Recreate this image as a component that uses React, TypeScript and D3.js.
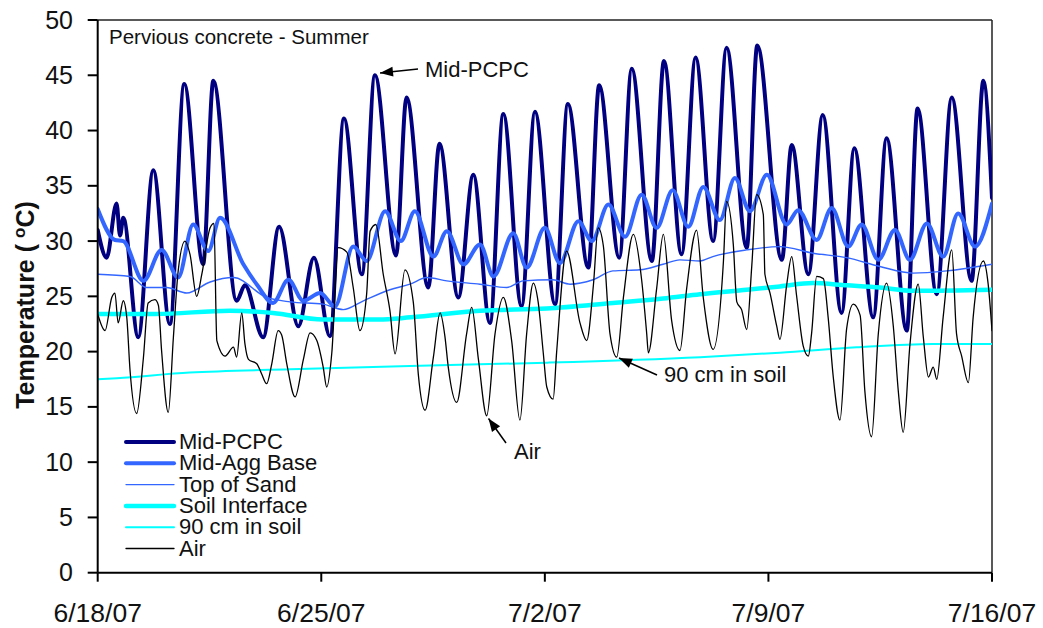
import React from "react";
import * as d3 from "d3";

type Pt = [number, number]; // [days since 6/18/07, temperature °C]

const xTickDays = [0, 7, 14, 21, 28];
const xTickLabels = ["6/18/07", "6/25/07", "7/2/07", "7/9/07", "7/16/07"];
const yTicks = [0, 5, 10, 15, 20, 25, 30, 35, 40, 45, 50];

const midPcpc: Pt[] = [
  [0.0, 31.0], [0.28, 28.5], [0.59, 33.4], [0.7, 30.5], [0.8, 32.1], [1.27, 21.3],
  [1.74, 36.4], [2.26, 22.5], [2.71, 44.2], [3.3, 27.9], [3.62, 44.5], [4.35, 24.6],
  [4.61, 26.0], [5.18, 21.3], [5.68, 31.3], [6.28, 22.3], [6.77, 28.5], [7.27, 21.4],
  [7.71, 41.1], [8.27, 27.0], [8.68, 45.0], [9.34, 28.7], [9.67, 43.0], [10.35, 25.8],
  [10.7, 38.8], [11.29, 24.9], [11.76, 36.0], [12.28, 22.6], [12.7, 41.5], [13.27, 24.1],
  [13.69, 41.7], [14.32, 24.3], [14.72, 42.4], [15.36, 27.6], [15.7, 44.1], [16.33, 28.5],
  [16.72, 45.6], [17.35, 28.2], [17.73, 46.3], [18.28, 28.8], [18.72, 46.6], [19.27, 30.0],
  [19.69, 47.5], [20.32, 29.4], [20.65, 47.7], [21.42, 28.3], [21.73, 38.7], [22.25, 27.0],
  [22.7, 41.4], [23.29, 23.5], [23.69, 38.4], [24.28, 23.1], [24.7, 39.3], [25.33, 21.9],
  [25.67, 42.0], [26.27, 25.2], [26.74, 43.0], [27.36, 26.4], [27.73, 44.5], [28.0, 33.9],
];

const midAggBase: Pt[] = [
  [0.0, 32.9], [0.54, 30.1], [0.8, 30.0], [1.43, 26.4], [2.0, 29.2], [2.52, 26.7],
  [2.99, 31.5], [3.46, 29.1], [3.83, 32.1], [4.56, 27.9], [5.0, 26.0], [5.49, 24.4],
  [5.97, 26.5], [6.44, 24.6], [6.96, 25.3], [7.43, 24.1], [8.0, 29.5], [8.42, 28.2],
  [9.0, 32.7], [9.49, 30.0], [9.93, 32.7], [10.51, 28.6], [10.93, 30.9], [11.45, 27.9],
  [11.97, 29.7], [12.39, 26.8], [13.01, 30.7], [13.43, 27.6], [14.0, 31.2], [14.47, 28.0],
  [15.05, 31.8], [15.47, 30.0], [15.99, 33.3], [16.51, 30.4], [17.03, 34.2], [17.5, 31.2],
  [18.0, 34.6], [18.49, 31.3], [18.96, 34.9], [19.48, 31.9], [19.95, 35.7], [20.42, 32.7],
  [20.95, 36.0], [21.57, 31.5], [21.93, 32.8], [22.51, 30.1], [22.98, 33.0], [23.5, 29.5],
  [23.92, 31.5], [24.44, 28.3], [24.96, 31.0], [25.43, 28.3], [25.96, 31.6], [26.47, 28.6],
  [26.94, 32.5], [27.47, 29.5], [28.0, 33.4],
];

const topOfSand: Pt[] = [
  [0.0, 27.0], [1.01, 26.8], [1.53, 25.8], [2.16, 25.8], [2.79, 25.3], [3.52, 26.3],
  [4.25, 26.7], [5.29, 24.9], [6.02, 24.5], [7.05, 24.3], [7.69, 23.8], [8.32, 24.6],
  [9.15, 25.6], [9.78, 26.1], [10.3, 26.7], [10.93, 26.4], [11.97, 26.1], [12.81, 25.8],
  [13.32, 26.4], [14.25, 26.5], [14.79, 26.1], [15.51, 26.5], [16.13, 27.3], [16.98, 27.4],
  [17.7, 27.9], [18.23, 28.3], [18.86, 28.2], [19.26, 28.6], [20.32, 29.2], [21.36, 29.5],
  [22.4, 28.9], [23.45, 28.5], [24.49, 27.7], [25.53, 27.1], [26.58, 27.3], [28.0, 27.9],
];

const soilInterface: Pt[] = [
  [0.0, 23.4], [1.8, 23.4], [4.14, 23.7], [5.49, 23.5], [7.05, 22.9], [8.8, 22.9],
  [9.8, 23.1], [11.97, 23.7], [14.06, 23.9], [16.13, 24.4], [17.7, 24.8], [18.86, 25.2],
  [20.32, 25.6], [21.36, 25.9], [22.4, 26.2], [23.45, 26.0], [24.49, 25.8], [25.53, 25.5],
  [28.0, 25.6],
];

const soil90cm: Pt[] = [
  [0.0, 17.5], [0.6, 17.6], [2.88, 18.1], [6.02, 18.4], [9.78, 18.7], [14.06, 19.0],
  [18.86, 19.5], [21.36, 19.9], [23.76, 20.4], [26.15, 20.7], [28.0, 20.7],
];

const air: Pt[] = [
  [0.0, 23.4], [0.23, 21.9], [0.44, 24.9], [0.54, 25.3], [0.64, 22.6], [0.8, 24.6],
  [0.91, 23.1], [1.01, 18.4], [1.22, 14.4], [1.43, 19.4], [1.58, 24.4], [1.79, 24.7],
  [1.9, 24.2], [2.0, 20.1], [2.21, 14.5], [2.37, 21.3], [2.52, 27.3], [2.73, 30.0],
  [2.89, 28.8], [3.1, 25.0], [3.26, 27.0], [3.52, 31.2], [3.64, 31.6], [3.73, 21.0],
  [3.99, 19.6], [4.25, 20.4], [4.35, 19.5], [4.51, 23.5], [4.61, 20.7], [4.72, 19.3],
  [4.98, 18.9], [5.13, 18.0], [5.29, 17.1], [5.45, 18.9], [5.65, 21.9], [5.76, 21.5],
  [5.92, 18.9], [6.18, 15.9], [6.44, 19.3], [6.65, 21.7], [6.86, 21.0], [7.06, 18.6],
  [7.17, 16.8], [7.33, 19.9], [7.53, 29.4], [7.8, 29.0], [8.0, 25.8], [8.21, 21.9],
  [8.42, 25.2], [8.53, 30.9], [8.71, 31.5], [8.94, 27.0], [9.15, 23.7], [9.31, 19.8],
  [9.62, 27.4], [9.88, 24.5], [10.04, 17.9], [10.25, 14.7], [10.51, 19.5], [10.72, 23.5],
  [10.87, 21.4], [10.98, 18.5], [11.24, 15.4], [11.55, 21.6], [11.71, 24.0], [11.92, 19.3],
  [12.18, 14.2], [12.44, 21.6], [12.7, 24.9], [12.96, 21.0], [13.22, 13.8], [13.43, 21.6],
  [13.64, 26.2], [13.79, 24.5], [13.95, 19.9], [14.06, 16.8], [14.26, 15.7], [14.37, 20.0],
  [14.68, 29.1], [15.1, 22.6], [15.31, 21.0], [15.52, 26.0], [15.67, 31.2], [15.83, 29.6],
  [16.04, 21.6], [16.25, 19.5], [16.46, 24.9], [16.77, 30.6], [17.03, 26.5], [17.19, 21.6],
  [17.24, 19.9], [17.5, 25.7], [17.71, 30.6], [17.97, 22.8], [18.23, 20.1], [18.44, 25.7],
  [18.75, 31.0], [18.96, 24.9], [19.27, 20.2], [19.59, 28.1], [19.69, 33.6], [19.9, 29.7],
  [20.01, 24.5], [20.16, 23.8], [20.32, 22.0], [20.48, 27.8], [20.63, 34.2], [20.84, 32.4],
  [20.89, 27.0], [21.05, 25.3], [21.26, 22.3], [21.36, 21.1], [21.57, 26.0], [21.73, 28.6],
  [21.88, 25.1], [22.09, 20.5], [22.25, 19.6], [22.35, 21.6], [22.51, 26.8], [22.72, 26.6],
  [22.87, 23.1], [23.03, 17.7], [23.24, 13.8], [23.45, 22.1], [23.66, 24.3], [23.87, 23.3],
  [24.02, 16.4], [24.23, 12.3], [24.44, 21.6], [24.7, 26.2], [24.91, 22.3], [25.07, 16.3],
  [25.22, 12.7], [25.43, 20.6], [25.69, 26.1], [25.85, 21.3], [26.01, 17.7], [26.16, 18.6],
  [26.27, 17.5], [26.47, 23.1], [26.74, 29.2], [26.89, 21.6], [27.05, 19.6], [27.26, 17.2],
  [27.41, 23.1], [27.73, 28.2], [27.88, 26.1], [28.0, 21.9],
];

const seriesNames = ["Mid-PCPC", "Mid-Agg Base", "Top of Sand", "Soil Interface", "90 cm in soil", "Air"];
const seriesData = [midPcpc, midAggBase, topOfSand, soilInterface, soil90cm, air];
const seriesColors = ["#000080", "#3366FF", "#3366FF", "#00FFFF", "#00FFFF", "#000000"];
const seriesWidths = [4, 4, 1.4, 4.5, 2, 1.3];

const W = 1043;
const H = 628;
const plot = { left: 97.7, right: 992, top: 20, bottom: 572.7 };
const FONT = "Arial, 'Liberation Sans', Helvetica, sans-serif";

export default function App() {
  const x = d3.scaleLinear().domain([0, 28]).range([plot.left, plot.right]);
  const y = d3.scaleLinear().domain([0, 50]).range([plot.bottom, plot.top]);
  const line = d3
    .line<Pt>()
    .x((d) => x(d[0]))
    .y((d) => y(d[1]))
    .curve(d3.curveMonotoneX);

  const legendX1 = 126;
  const legendX2 = 174;
  const legendY0 = 442;
  const legendStep = 21.3;

  const arrowHead = (tx: number, ty: number, fx: number, fy: number) => {
    const a = Math.atan2(ty - fy, tx - fx);
    const len = 13;
    const half = 5;
    const bx = tx - len * Math.cos(a);
    const by = ty - len * Math.sin(a);
    const px = -Math.sin(a) * half;
    const py = Math.cos(a) * half;
    return `${tx},${ty} ${bx + px},${by + py} ${bx - px},${by - py}`;
  };

  const annotations = [
    { text: "Mid-PCPC", tx: 380, ty: 73, fx: 418, fy: 69, lx: 425, ly: 77 },
    { text: "90 cm in soil", tx: 619, ty: 358, fx: 657, fy: 375, lx: 664, ly: 382 },
    { text: "Air", tx: 488.5, ty: 418.5, fx: 506, fy: 443, lx: 514, ly: 459 },
  ];

  return (
    <svg
      width={W}
      height={H}
      style={{ position: "absolute", left: 0, top: 0, background: "#fff" }}
      fontFamily={FONT}
    >
      <defs>
        <clipPath id="plot-clip">
          <rect x={plot.left} y={plot.top - 2} width={plot.right - plot.left} height={plot.bottom - plot.top + 2} />
        </clipPath>
      </defs>

      {/* frame */}
      <line x1={plot.left} x2={plot.right} y1={plot.top} y2={plot.top} stroke="#222" strokeWidth={1.5} />
      <line x1={plot.right} x2={plot.right} y1={plot.top} y2={plot.bottom} stroke="#222" strokeWidth={1.5} />

      {/* series */}
      <g clipPath="url(#plot-clip)" fill="none" strokeLinejoin="round" strokeLinecap="round">
        {seriesData.map((d, i) => (
          <path key={seriesNames[i]} d={line(d) ?? ""} stroke={seriesColors[i]} strokeWidth={seriesWidths[i]} />
        ))}
      </g>

      {/* axes */}
      <line x1={plot.left} x2={plot.left} y1={plot.top} y2={plot.bottom} stroke="#000" strokeWidth={2} />
      <line x1={plot.left} x2={plot.right} y1={plot.bottom} y2={plot.bottom} stroke="#000" strokeWidth={2} />
      {yTicks.map((t) => (
        <g key={`y${t}`}>
          <line x1={plot.left - 10} x2={plot.left} y1={y(t)} y2={y(t)} stroke="#000" strokeWidth={2} />
          <text x={73} y={y(t) + 8.5} textAnchor="end" fontSize={25} fill="#111">
            {t}
          </text>
        </g>
      ))}
      {xTickDays.map((t, i) => (
        <g key={`x${t}`}>
          <line x1={x(t)} x2={x(t)} y1={plot.bottom} y2={plot.bottom + 9} stroke="#000" strokeWidth={2} />
          <text x={x(t)} y={622} textAnchor="middle" fontSize={26.5} fill="#111">
            {xTickLabels[i]}
          </text>
        </g>
      ))}

      {/* y-axis title */}
      <text
        transform="translate(34,305) rotate(-90)"
        textAnchor="middle"
        fontSize={25}
        fontWeight="bold"
        fill="#111"
      >
        Temperature (
        <tspan dx={6} dy={-9} fontSize={17}>o</tspan>
        <tspan dy={9}>C)</tspan>
      </text>

      {/* title */}
      <text x={109} y={43.5} fontSize={20.5} fill="#111">
        Pervious concrete - Summer
      </text>

      {/* legend */}
      {seriesNames.map((name, i) => {
        const ly = legendY0 + i * legendStep;
        return (
          <g key={`lg${name}`}>
            <line
              x1={legendX1}
              x2={legendX2}
              y1={ly}
              y2={ly}
              stroke={seriesColors[i]}
              strokeWidth={seriesWidths[i]}
              strokeLinecap="round"
            />
            <text x={179} y={ly + 7} fontSize={22} fill="#111">
              {name}
            </text>
          </g>
        );
      })}

      {/* annotations */}
      {annotations.map((a) => (
        <g key={`an${a.text}`}>
          <line x1={a.fx} y1={a.fy} x2={a.tx} y2={a.ty} stroke="#000" strokeWidth={1.5} />
          <polygon points={arrowHead(a.tx, a.ty, a.fx, a.fy)} fill="#000" />
          <text x={a.lx} y={a.ly} fontSize={22} fill="#111">
            {a.text}
          </text>
        </g>
      ))}
    </svg>
  );
}
